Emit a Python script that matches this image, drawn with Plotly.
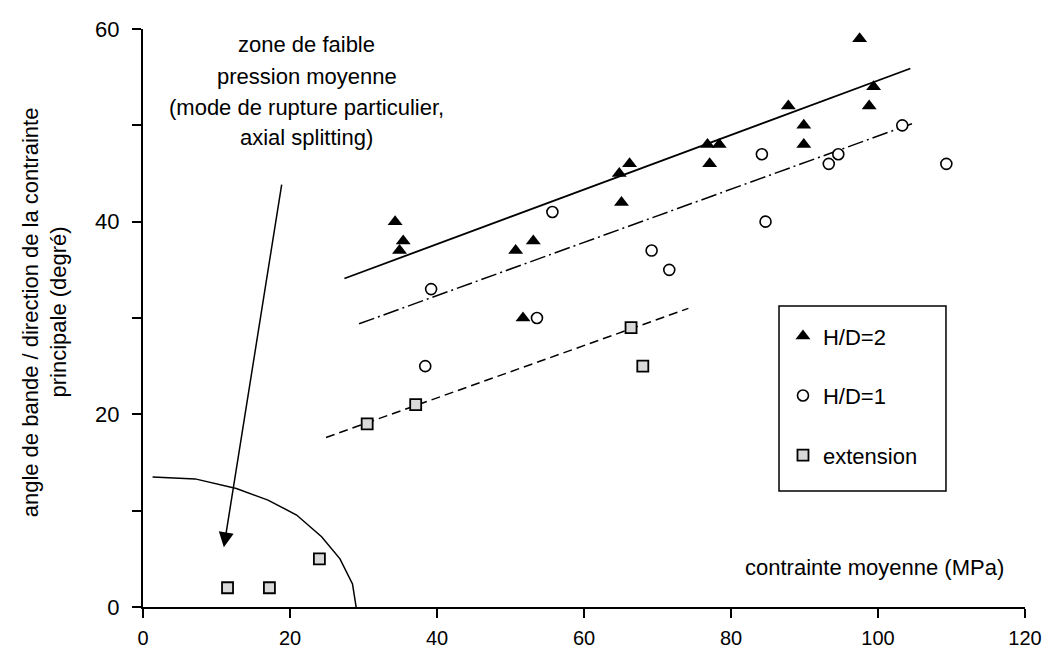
import plotly.graph_objects as go

# H/D=2 (triangles)
hd2_x = [34.3, 35.4, 34.9, 50.7, 53.1, 51.7, 64.8, 66.2, 65.1, 76.8, 78.4, 77.1, 87.8, 89.9, 89.9, 98.8, 99.4, 97.5]
hd2_y = [40, 38, 37, 37, 38, 30, 45, 46, 42, 48, 48, 46, 52, 50, 48, 52, 54, 59]

# H/D=1 (circles)
hd1_x = [38.4, 39.2, 53.6, 55.7, 69.2, 71.6, 84.2, 84.7, 93.3, 94.6, 103.3, 109.3]
hd1_y = [25, 33, 30, 41, 37, 35, 47, 40, 46, 47, 50, 46]

# extension (squares)
ext_x = [11.5, 17.2, 24.0, 30.5, 37.1, 66.4, 68.0]
ext_y = [2, 2, 5, 19, 21, 29, 25]

# trend lines
fit2_x = [27.4, 104.4]
fit2_y = [34.1, 55.9]
fit1_x = [29.4, 105.1]
fit1_y = [29.4, 50.3]
fitext_x = [24.9, 74.2]
fitext_y = [17.6, 31.0]

# low mean pressure boundary
env_x = [1.3, 7.1, 12.7, 17.0, 20.9, 24.3, 26.8, 28.5, 29.0]
env_y = [13.5, 13.3, 12.3, 11.1, 9.55, 7.3, 5.0, 2.4, 0]

x_ticks = [0, 20, 40, 60, 80, 100, 120]
y_ticks = [0, 10, 20, 30, 40, 50, 60]
y_ticktext = ['0', '', '20', '', '40', '', '60']

zone_lines = ['zone de faible', 'pression moyenne',
              '(mode de rupture particulier,', 'axial splitting)']
zone_y = [58.4, 55.1, 51.8, 48.7]

FONT = 'Liberation Sans, Arial, sans-serif'
FS = 22

fig = go.Figure()

fig.add_trace(go.Scatter(x=fit2_x, y=fit2_y, mode='lines', showlegend=False,
                         line=dict(color='black', width=1.8)))
fig.add_trace(go.Scatter(x=fit1_x, y=fit1_y, mode='lines', showlegend=False,
                         line=dict(color='black', width=1.5, dash='16px,4px,2px,4px')))
fig.add_trace(go.Scatter(x=fitext_x, y=fitext_y, mode='lines', showlegend=False,
                         line=dict(color='black', width=1.5, dash='9px,5px')))
fig.add_trace(go.Scatter(x=env_x, y=env_y, mode='lines', showlegend=False,
                         line=dict(color='black', width=1.5)))

fig.add_trace(go.Scatter(
    x=hd2_x, y=hd2_y, mode='markers', name='H/D=2', legendgroup='a',
    marker=dict(symbol='triangle-up', size=13, color='black'),
    cliponaxis=False
))
fig.add_trace(go.Scatter(
    x=hd1_x, y=hd1_y, mode='markers', name='H/D=1', legendgroup='b',
    marker=dict(symbol='circle', size=11, color='white',
                line=dict(color='black', width=1.6)),
    cliponaxis=False
))
fig.add_trace(go.Scatter(
    x=ext_x, y=ext_y, mode='markers', name='extension', legendgroup='c',
    marker=dict(symbol='square', size=11, color='#d9d9d9',
                line=dict(color='black', width=1.8)),
    cliponaxis=False
))

# arrow pointing to the low pressure zone
fig.add_annotation(x=11.0, y=6.2, ax=18.9, ay=44.0, xref='x', yref='y',
                   axref='x', ayref='y', text='', showarrow=True,
                   arrowhead=2, arrowsize=2, arrowwidth=1.5, arrowcolor='black')

for txt, yy in zip(zone_lines, zone_y):
    fig.add_annotation(x=22.3, y=yy, text=txt, showarrow=False,
                       xanchor='center', yanchor='middle',
                       font=dict(size=FS, color='black', family=FONT))

fig.add_annotation(x=99.5, y=4.05, text='contrainte moyenne (MPa)', showarrow=False,
                   xanchor='center', yanchor='middle',
                   font=dict(size=FS, color='black', family=FONT))

# y axis title, two lines
fig.add_annotation(x=-0.128, y=0.51, xref='paper', yref='paper', textangle=-90,
                   xanchor='center', yanchor='middle',
                   text='angle de bande / direction de la contrainte', showarrow=False,
                   font=dict(size=FS, color='black', family=FONT))
fig.add_annotation(x=-0.096, y=0.51, xref='paper', yref='paper', textangle=-90,
                   xanchor='center', yanchor='middle',
                   text='principale (degré)', showarrow=False,
                   font=dict(size=FS, color='black', family=FONT))

# legend frame
fig.add_shape(type='rect', xref='paper', yref='paper',
              x0=0.7211, x1=0.9104, y0=0.2007, y1=0.5208,
              line=dict(color='black', width=1.5), fillcolor='white', layer='below')

fig.update_layout(
    width=1045, height=643,
    margin=dict(l=135, r=28, t=21, b=44),
    paper_bgcolor='white', plot_bgcolor='white',
    font=dict(family=FONT, size=FS, color='black'),
    showlegend=True,
    legend=dict(
        x=0.7256, y=0.505, xanchor='left', yanchor='top',
        borderwidth=0, bgcolor='rgba(0,0,0,0)',
        traceorder='grouped', tracegroupgap=28,
        font=dict(size=FS, color='black', family=FONT)
    ),
    xaxis=dict(
        range=[0, 120], tickvals=x_ticks, showgrid=False, zeroline=False,
        showline=True, linecolor='black', linewidth=2, automargin=False,
        ticks='outside', ticklen=9, tickwidth=2, tickcolor='black',
        ticklabelstandoff=3, tickfont=dict(size=20)
    ),
    yaxis=dict(
        range=[0, 60], tickvals=y_ticks, ticktext=y_ticktext,
        showgrid=False, zeroline=False, automargin=False,
        showline=True, linecolor='black', linewidth=2,
        ticks='outside', ticklen=9, tickwidth=2, tickcolor='black',
        ticklabelstandoff=8
    )
)

fig.write_html('out.html')
